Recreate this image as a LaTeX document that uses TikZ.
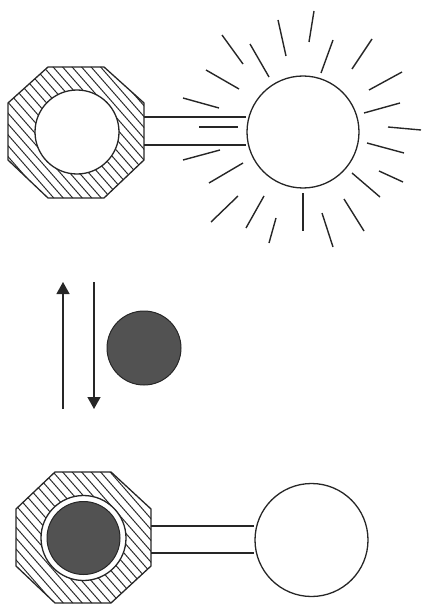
\documentclass[tikz,border=0pt]{standalone}
\usetikzlibrary{arrows.meta}
\begin{document}
\begin{tikzpicture}[x=1pt,y=-1pt,
  outl/.style={draw=black!85,line width=1.3pt},
  hatch/.style={draw=black!85,line width=0.95pt},
  ray/.style={draw=black!85,line width=1.4pt,line cap=butt},
  disk/.style={circle,draw=black!85,fill=black!68,line width=1pt,inner sep=0pt},
  ball/.style={circle,draw=black!85,fill=white,line width=1.3pt,inner sep=0pt},
  arr/.style={draw=black!85,line width=1.3pt,-{Triangle[width=13pt,length=12pt]}}]
\useasboundingbox (0,0) rectangle (422,604);
% ---------- top molecule ----------
\coordinate (o1) at (76,132);
\begin{scope}
  \clip (48,67) -- (104,67) -- (144,103) -- (144,160) -- (104,198) -- (48,198) -- (8,160) -- (8,103) -- cycle;
  \foreach \c in {-200,-190.5,...,160} {\draw[hatch] (\c,60) -- (\c+140,220);}
\end{scope}
\draw[outl] (48,67) -- (104,67) -- (144,103) -- (144,160) -- (104,198) -- (48,198) -- (8,160) -- (8,103) -- cycle;
\node[ball,minimum size=84pt] (c1) at (77,132) {};
\node[ball,minimum size=112pt] (s1) at (303,132) {};
\draw[outl] (144,117) -- (s1.west |- 0,117);
\draw[outl] (144,145) -- (s1.west |- 0,145);
% rays
\foreach \a/\b/\c/\d in {
 222/35/243/64, 278/20/286/56, 314/11/309/42, 250/44/269/77, 333/40/321/73,
 372/39/352/69, 206/70/239/89, 402/72/369/90, 183/98/219/108, 400/103/364/113,
 199/127/238/127, 388/127/421/130, 183/160/220/150, 367/143/404/153,
 209/183/243/163, 379/171/403/182, 211/222/238/196, 352/173/380/197,
 246/228/264/196, 269/243/276/218, 303/193/303/231, 322/213/333/247, 344/199/364/231}
 {\draw[ray] (\a,\b) -- (\c,\d);}
% ---------- arrows and free disk ----------
\coordinate (u0) at (63,409); \coordinate (u1) at (63,282);
\coordinate (d0) at (94,282); \coordinate (d1) at (94,409);
\draw[arr] (u0) -- (u1);
\draw[arr] (d0) -- (d1);
\node[disk,minimum size=74pt] (g) at (144,348) {};
% ---------- bottom molecule ----------
\begin{scope}
  \clip (55,472) -- (111,472) -- (151,509) -- (151,566) -- (111,603) -- (55,603) -- (16,566) -- (16,509) -- cycle;
  \foreach \c in {-200,-190.5,...,180} {\draw[hatch] (\c,465) -- (\c+140,625);}
\end{scope}
\draw[outl] (55,472) -- (111,472) -- (151,509) -- (151,566) -- (111,603) -- (55,603) -- (16,566) -- (16,509) -- cycle;
\node[ball,minimum size=85pt] (c2) at (83.5,538) {};
\node[disk,minimum size=73pt] (g2) at (83.5,538) {};
\node[ball,minimum size=113pt] (s2) at (311.5,540) {};
\draw[outl] (151,526) -- (s2.west |- 0,526);
\draw[outl] (151,553) -- (s2.west |- 0,553);
\end{tikzpicture}
\end{document}
